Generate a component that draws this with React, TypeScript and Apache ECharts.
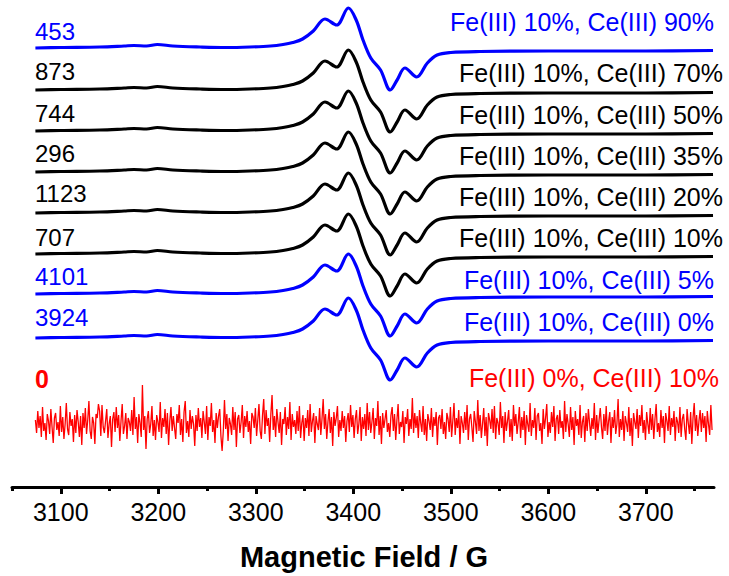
import React, { useEffect, useRef } from "react";
import * as echarts from "echarts";

// Common spectral shape (magnetic field in G, signal in px-like units, up positive)
const shapeField = [3074, 3100, 3140, 3165, 3175, 3188, 3199, 3215, 3243, 3270, 3294, 3315, 3328, 3338, 3348, 3359, 3371, 3383, 3395, 3403, 3410, 3418, 3428, 3438, 3445, 3453, 3465, 3476, 3486, 3500, 3530, 3600, 3653, 3700, 3769];
const shapeSignal = [0, 0.5, 1, 2, 2.5, 2, 3.5, 2, 1, 0.5, 1, 2, 3.5, 5.5, 9, 17, 29, 23, 40, 28, 8, -10, -22, -42, -32, -20, -29, -15, -7, -4.5, -3.5, -3, -3, -3, -2.5];

// Stacked traces (top to bottom)
const traceLabels = [
  "Fe(III) 10%, Ce(III) 90%",
  "Fe(III) 10%, Ce(III) 70%",
  "Fe(III) 10%, Ce(III) 50%",
  "Fe(III) 10%, Ce(III) 35%",
  "Fe(III) 10%, Ce(III) 20%",
  "Fe(III) 10%, Ce(III) 10%",
  "Fe(III) 10%, Ce(III) 5%",
  "Fe(III) 10%, Ce(III) 0%",
];
const traceCounts = ["453", "873", "744", "296", "1123", "707", "4101", "3924"];
const traceOffsets = [439, 397, 356, 315, 274, 233, 193, 149];
const traceColors = ["#0000FF", "#000000", "#000000", "#000000", "#000000", "#000000", "#0000FF", "#0000FF"];

// Noise-only trace
const noiseLabel = "Fe(III) 0%, Ce(III) 10%";
const noiseCount = "0";
const noiseOffset = 62;
const noiseStart = 3074;
const noiseEnd = 3768;
const noiseValues = [
  5, -8, 14, -3, 9, -12, 18, -6, 2, -15, 11, 4, -9, 16, -2, -18, 7, 12, -5, 3,
  -11, 19, -7, 8, -14, 1, 22, -4, -10, 13, -1, 6, -17, 10, -8, 15, 3, -12, 9, -20,
  12, -3, 17, -9, 5, 24, -6, -14, 8, 2, -19, 11, 7, 21, 14, -11, 20, -2, -8, 4,
  16, -13, 1, 9, -22, 6, 13, -7, 18, -3, 10, -16, 4, 21, -9, -1, 12, -14, 7, 3,
  -6, 15, -10, 28, -4, 8, -18, 11, 2, -12, 40, -5, 9, -24, 6, 14, -8, 1, 19, -11,
  5, -15, 10, 3, -7, 23, -13, 7, -2, 16, -9, 12, -20, 4, 18, -6, 9, -3, -14, 11,
  2, 20, -10, 6, -17, 13, 24, -8, 4, -12, 15, -4, 9, 1, -21, 10, -6, 17, -2, 7,
  -13, 14, 3, -9, 19, -15, 8, -1, 22, -7, 5, -18, 12, -3, 9, 16, -11, -26, -6, 25,
  -4, 11, -16, 7, 1, -10, 18, -5, 13, -22, 6, 10, -8, 3, 20, -13, 9, -2, 14, -7,
  4, -19, 12, 8, -3, 17, -11, 5, 21, -6, -14, 10, 26, -9, 15, -1, 7, -17, 11, 30,
  -5, 9, -12, 16, 3, -8, 13, -20, 6, 1, 18, -10, 8, -4, 23, -15, 11, -2, 5, -9,
  14, -6, 19, -13, 2, 10, -16, 7, -3, 15, -11, 21, -7, 4, 12, -18, 9, 1, -5, 17,
  -10, 6, 26, -4, 11, -14, 3, 16, -8, 8, -21, 13, -1, 7, 19, -12, 5, -6, 14, -3,
  9, -17, 4, 12, -7, 20, -2, 10, -13, 6, 15, -9, 1, 18, -16, 8, -4, 11, -11, 22,
  -5, 13, -8, 3, 17, -14, 7, -1, 24, -10, 9, -19, 12, -3, 6, 15, -7, 2, -12, 10,
  18, -6, 11, -15, 5, 21, -9, 3, -2, 14, -18, 8, 1, 16, -11, 6, -4, 27, -8, 12,
  -3, 9, -13, 15, 2, -7, 19, -10, 6, -16, 11, 4, -5, 17, -12, 8, -1, 13, -20, 7,
  10, -4, 16, -9, 3, -14, 12, 6, -7, 18, -12, 4, 22, -10, 7, -3, 15, -19, 9, 2,
  -8, 13, -5, 20, -15, 6, 11, -2, -17, 14, 3, -9, 25, -6, 10, -13, 1, 17, -11, 8,
  -21, 12, 5, -4, 16, -8, 19, -14, 7, 2, -10, 23, -3, 9, -18, 13, -6, 4, 15, -12,
  6, -16, 20, -1, 11, -9, 3, 18, -13, 8, -5, 14, -20, 10, 1, -7, 22, -11, 5, -3,
  17, -15, 9, 12, -6, 2, -19, 16, -4, 7, 21, -12, 3, -8, 13, -2, 19, -16, 6, 10,
  -9, 15, -3, 4, -14, 24, -7, 11, 1, -12, 18, -5, 8, -20, 14, -1, 6, -10, 20, -13,
  3, 9, -17, 12, -6, 16, 2, -11, 7, -4, 22, -15, 10, -8, 5, 17, -2, -14, 11, -6,
  19, -10, 4, 13, -18, 8, -3, 15, -9, 1, 26, -12, 6, -5, 14, -16, 9, 2, -7, 18,
  -11, 7, -21, 12, 3, -4, 16, -13, 10, -1, 20, -8, 5, -15, 13, 1, -9, 17, -5, 11,
  -14, 6, 21, -7, 2, -12, 15, -3, 9, -18, 12, 4, -6, 19, -10, 7, -2, 14, -16, 8,
  3, -8, 18, -12, 6, 11, -4, -15, 16, 2, -9, 13, -19, 7, 22, -6, 10, -11, 4, 15,
  -7, 12, -3, 9, -17, 14, 1, -10, 20, -5,
];

// Axis ticks
const majorTicks = [3100, 3200, 3300, 3400, 3500, 3600, 3700];
const minorTicks = [3050, 3150, 3250, 3350, 3450, 3550, 3650, 3750];
const axisTitle = "Magnetic Field / G";

const FONT = '"Liberation Sans", Arial, Helvetica, sans-serif';

export default function App() {
  const ref = useRef<HTMLDivElement>(null);
  useEffect(() => {
    document.body.style.margin = "0";
    const chart = echarts.init(ref.current!, null, { renderer: "svg" });

    const traceSeries = traceOffsets.map((off, i) => ({
      type: "line",
      xAxisIndex: 0,
      data: shapeField.map((f, k) => [f, shapeSignal[k] + off]),
      smooth: 0.35,
      symbol: "none",
      lineStyle: { color: traceColors[i], width: 3.2 },
      z: 3,
    }));

    const n = noiseValues.length;
    const noiseData = noiseValues.map((v, k) => [noiseStart + (k * (noiseEnd - noiseStart)) / (n - 1), v + noiseOffset]);

    const rightY = [22, 73, 115, 156, 197, 238, 280, 322];
    const rightX = [714, 723, 723, 723, 723, 723, 714, 714];
    const leftY = [31, 71, 113, 153, 193, 237, 276, 317];

    const graphics: any[] = [];
    traceLabels.forEach((t, i) => {
      graphics.push({
        type: "text",
        x: rightX[i],
        y: rightY[i],
        style: { text: t, fill: traceColors[i], font: `25px ${FONT}`, align: "right", verticalAlign: "middle", textAlign: "right", textVerticalAlign: "middle" },
      });
      graphics.push({
        type: "text",
        x: 35,
        y: leftY[i],
        style: { text: traceCounts[i], fill: traceColors[i], font: `24px ${FONT}`, align: "left", verticalAlign: "middle", textAlign: "left", textVerticalAlign: "middle" },
      });
    });
    graphics.push({
      type: "text",
      x: 719,
      y: 378,
      style: { text: noiseLabel, fill: "#FF0000", font: `25px ${FONT}`, align: "right", verticalAlign: "middle", textAlign: "right", textVerticalAlign: "middle" },
    });
    graphics.push({
      type: "text",
      x: 35,
      y: 379,
      style: { text: noiseCount, fill: "#FF0000", font: `bold 25px ${FONT}`, align: "left", verticalAlign: "middle", textAlign: "left", textVerticalAlign: "middle" },
    });
    graphics.push({
      type: "text",
      x: 364,
      y: 557,
      style: { text: axisTitle, fill: "#000", font: `bold 29px ${FONT}`, align: "center", verticalAlign: "middle", textAlign: "center", textVerticalAlign: "middle" },
    });

    chart.setOption({
      animation: false,
      backgroundColor: "#fff",
      grid: { left: 12, right: 15, top: 0, bottom: 89, containLabel: false },
      xAxis: [
        {
          type: "value",
          min: 3050,
          max: 3770,
          position: "bottom",
          axisLine: { show: true, lineStyle: { color: "#000", width: 3, cap: "round" } },
          axisTick: { show: true, customValues: majorTicks, length: 7, lineStyle: { color: "#000", width: 3 } },
          axisLabel: { show: true, customValues: majorTicks, fontSize: 25, color: "#000", fontFamily: FONT, margin: 12, formatter: (v: number) => String(v) },
          splitLine: { show: false },
        },
        {
          type: "value",
          min: 3050,
          max: 3770,
          position: "bottom",
          offset: 0,
          axisLine: { show: false },
          axisTick: { show: true, customValues: minorTicks, length: 4, lineStyle: { color: "#000", width: 3 } },
          axisLabel: { show: false },
          splitLine: { show: false },
        },
      ],
      yAxis: { type: "value", min: 0, max: 487, show: false },
      series: [
        ...traceSeries,
        {
          type: "line",
          xAxisIndex: 0,
          data: noiseData,
          symbol: "none",
          lineStyle: { color: "#FF0000", width: 1.3 },
          z: 2,
        },
      ],
      graphic: graphics,
    });
    return () => chart.dispose();
  }, []);
  return <div ref={ref} style={{ width: 729, height: 576 }} />;
}
